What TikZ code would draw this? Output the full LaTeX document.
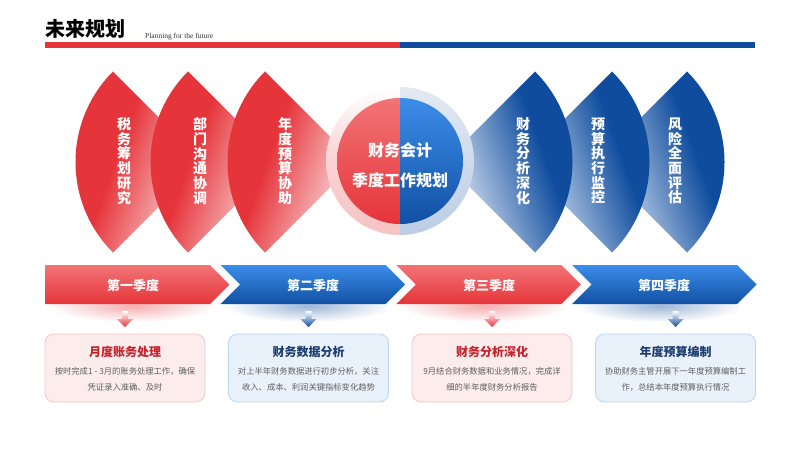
\documentclass[tikz,border=0pt]{standalone}
\usepackage{fontspec}
\setmainfont{Noto Sans CJK SC}
\newfontfamily\enserif{Liberation Serif}
\usetikzlibrary{calc,fadings}
\tikzfading[name=softblob, inner color=transparent!0, outer color=transparent!100]
\definecolor{myred}{HTML}{E5343A}
\definecolor{myredlt}{HTML}{FADADB}
\definecolor{myblue}{HTML}{0F4C9E}
\definecolor{mybluelt}{HTML}{E6EEF8}
\definecolor{arRtop}{HTML}{F27476}
\definecolor{arRbot}{HTML}{E5353A}
\definecolor{arBtop}{HTML}{3C8DEA}
\definecolor{arBbot}{HTML}{1150A3}
\definecolor{boxRfill}{HTML}{FDECEC}
\definecolor{boxRline}{HTML}{F4C7C8}
\definecolor{boxBfill}{HTML}{E9F1FB}
\definecolor{boxBline}{HTML}{BAD2EE}
\definecolor{titR}{HTML}{C5222B}
\definecolor{titB}{HTML}{1D3E70}
\definecolor{bodytxt}{HTML}{5F5F5F}
\pgfdeclareverticalshading{petalR}{100bp}{color(0bp)=(myredlt); color(27bp)=(myredlt); color(56bp)=(myred); color(100bp)=(myred)}
\pgfdeclareverticalshading{petalB}{100bp}{color(0bp)=(mybluelt); color(25bp)=(mybluelt); color(60bp)=(myblue); color(100bp)=(myblue)}
\tikzset{
  petaltext/.style={text=white, font=\bfseries\fontsize{14}{14.7}\selectfont, align=center, inner sep=0pt},
  chevtext/.style={text=white, font=\bfseries\fontsize{13}{13}\selectfont, inner sep=0pt},
  boxR/.style={draw=boxRline, fill=boxRfill, line width=0.8pt, rounded corners=9pt, minimum width=160pt, minimum height=68pt},
  boxB/.style={draw=boxBline, fill=boxBfill, line width=0.8pt, rounded corners=9pt, minimum width=160pt, minimum height=68pt},
  boxtitle/.style={font=\bfseries\fontsize{12}{12}\selectfont, inner sep=0pt},
  boxbody/.style={text=bodytxt, font=\fontsize{8.3}{16}\selectfont, align=center, inner sep=0pt},
}
\begin{document}
\begin{tikzpicture}[x=1pt,y=-1pt]
\useasboundingbox (0,0) rectangle (800,450);
\fill[white] (0,0) rectangle (800,450);
% header
\node[anchor=west, inner sep=0pt, font=\bfseries\fontsize{20}{20}\selectfont] (title) at (45,29) {未来规划};
\node[anchor=west, inner sep=0pt, font=\enserif\fontsize{7.5}{8}\selectfont, text=black!80] (subtitle) at (145,37) {Planning for the future};
\fill[myred] (45,42) rectangle (399.5,48);
\fill[myblue] (399.5,42) rectangle (755,48);
% left petals (red)
\foreach \ax in {203.5,278.5,355.5}{
  \path[shading=petalR, shading angle=70] (\ax,162) -- (\ax-90.51,71.49) arc[start angle=225,end angle=135,radius=128] -- cycle;
}
% right petals (blue), outermost first
\foreach \ax in {596.5,521.5,444.5}{
  \path[shading=petalB, shading angle=-70] (\ax,162) -- (\ax+90.51,71.49) arc[start angle=-45,end angle=45,radius=128] -- cycle;
}
\node[petaltext] (p1) at (124,161) {税\\务\\筹\\划\\研\\究};
\node[petaltext] (p2) at (200,161) {部\\门\\沟\\通\\协\\调};
\node[petaltext] (p3) at (285,161) {年\\度\\预\\算\\协\\助};
\node[petaltext] (p4) at (523,161) {财\\务\\分\\析\\深\\化};
\node[petaltext] (p5) at (598,161) {预\\算\\执\\行\\监\\控};
\node[petaltext] (p6) at (675,161) {风\\险\\全\\面\\评\\估};
% centre circle
\path[top color=white, bottom color=myred!30, middle color=myred!22] (400,87) arc[start angle=270,end angle=90,radius=74] -- cycle;
\path[top color=myblue!12, bottom color=myblue!28] (400,87) arc[start angle=-90,end angle=90,radius=74] -- cycle;
\path[top color=arRtop, bottom color=myred] (400,98) arc[start angle=270,end angle=90,radius=63] -- cycle;
\path[top color=arBtop, bottom color=arBbot] (400,98) arc[start angle=-90,end angle=90,radius=63] -- cycle;
\node[text=white, font=\bfseries\fontsize{16}{30}\selectfont, align=center, inner sep=0pt] (c) at (400,165) {财务会计\\季度工作规划};
% chevrons
\foreach \i/\top/\bot/\sh in {0/arRtop/arRbot/myred,1/arBtop/arBbot/myblue,2/arRtop/arRbot/myred,3/arBtop/arBbot/myblue}{
  \pgfmathsetmacro{\L}{45+175.67*\i}
  \pgfmathsetmacro{\R}{\L+165}
  \pgfmathsetmacro{\T}{\R+19.5}
  \fill[\sh!40, path fading=softblob] (\L+5,290) rectangle (\R+5,322);
  \ifnum\i=0
    \path[top color=\top, bottom color=\bot] (\L,265) -- (\R,265) -- (\T,284.5) -- (\R,304) -- (\L,304) -- cycle;
  \else
    \path[top color=\top, bottom color=\bot] (\L,265) -- (\R,265) -- (\T,284.5) -- (\R,304) -- (\L,304) -- (\L+19.5,284.5) -- cycle;
  \fi
}
\node[chevtext] (q1) at (133,285) {第一季度};
\node[chevtext] (q2) at (313,285) {第二季度};
\node[chevtext] (q3) at (489,285) {第三季度};
\node[chevtext] (q4) at (664,285) {第四季度};
% boxes and pointers
\foreach \i/\st/\col in {0/boxR/myred,1/boxB/myblue,2/boxR/myred,3/boxB/myblue}{
  \pgfmathsetmacro{\cx}{125+183.5*\i}
  \path[top color=white, bottom color=\col] (\cx-3,311) -- (\cx+3,311) -- (\cx+3,319) -- (\cx+8,319) -- (\cx,327) -- (\cx-8,319) -- (\cx-3,319) -- cycle;
  \node[\st] (b\i) at (\cx,368) {};
}
\node[boxtitle, text=titR] (t1) at (125,352) {月度账务处理};
\node[boxbody] (d1) at (125,379) {按时完成1 - 3月的账务处理工作，确保\\凭证录入准确、及时};
\node[boxtitle, text=titB] (t2) at (308.5,352) {财务数据分析};
\node[boxbody] (d2) at (308.5,379) {对上半年财务数据进行初步分析，关注\\收入、成本、利润关键指标变化趋势};
\node[boxtitle, text=titR] (t3) at (492,352) {财务分析深化};
\node[boxbody] (d3) at (492,379) {9月结合财务数据和业务情况，完成详\\细的半年度财务分析报告};
\node[boxtitle, text=titB] (t4) at (675.5,352) {年度预算编制};
\node[boxbody] (d4) at (675.5,379) {协助财务主管开展下一年度预算编制工\\作，总结本年度预算执行情况};
\end{tikzpicture}
\end{document}
